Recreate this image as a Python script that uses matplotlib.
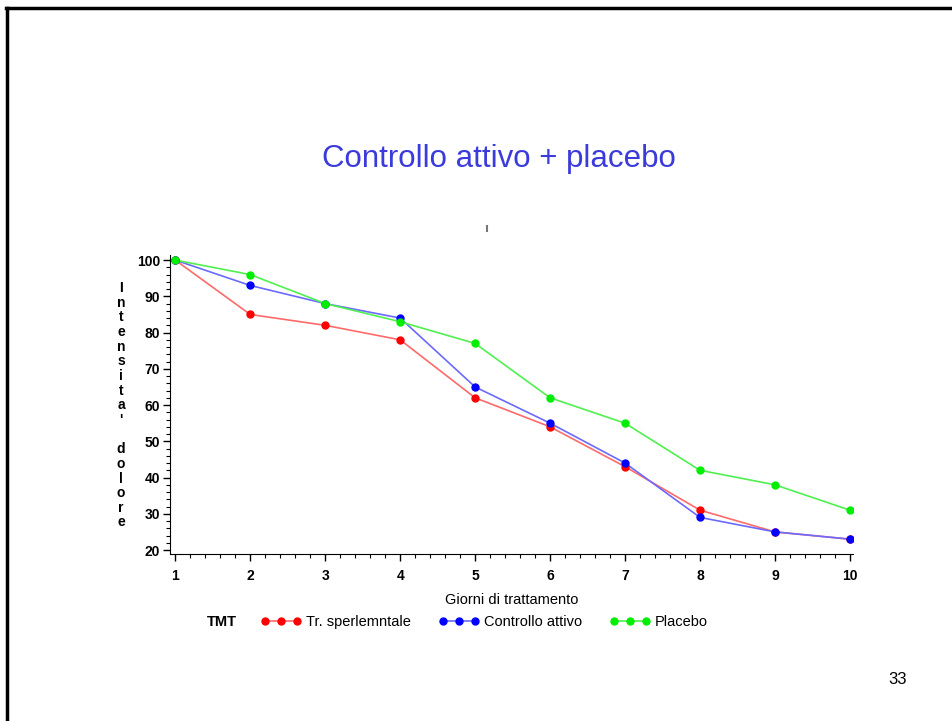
import matplotlib
matplotlib.use("Agg")
import matplotlib.pyplot as plt
from matplotlib.lines import Line2D
from matplotlib.ticker import MultipleLocator

plt.rcParams['font.family'] = ['Liberation Sans', 'DejaVu Sans']

# dati
giorni = [1, 2, 3, 4, 5, 6, 7, 8, 9, 10]
sperimentale = [100, 85, 82, 78, 62, 54, 43, 31, 25, 23]
controllo = [100, 93, 88, 84, 65, 55, 44, 29, 25, 23]
placebo = [100, 96, 88, 83, 77, 62, 55, 42, 38, 31]
etichette = ["Tr. sperlemntale", "Controllo attivo", "Placebo"]

fig = plt.figure(figsize=(9.53, 7.21), dpi=100)
ax = fig.add_axes([0.1784, 0.2316, 0.7166, 0.4147])

serie = [(sperimentale, "#ff6a6a", "#ff0000"),
         (controllo, "#6a6aff", "#0000ff"),
         (placebo, "#50f050", "#00ee00")]
handles = []
for vals, lc, mc in serie:
    ax.plot(giorni, vals, color=lc, lw=1.2, zorder=2)
    ax.plot(giorni, vals, ls="none", marker="o", ms=5, color=mc, zorder=3)
    handles.append(Line2D([], [], color=lc, lw=1.2, marker="o", ms=5,
                          markerfacecolor=mc, markeredgecolor=mc))

ax.set_xlim(0.93, 10.04)
ax.set_ylim(18.9, 101.4)
ax.set_xticks(giorni)
ax.set_yticks(range(20, 101, 10))
ax.xaxis.set_minor_locator(MultipleLocator(0.2))
ax.yaxis.set_minor_locator(MultipleLocator(2))
ax.spines['top'].set_visible(False)
ax.spines['right'].set_visible(False)
ax.tick_params(which="major", length=5, width=1, labelsize=10)
ax.tick_params(axis="y", pad=2)
ax.tick_params(axis="x", pad=6)
ax.tick_params(which="minor", length=3, width=0.8)
for t in ax.get_xticklabels() + ax.get_yticklabels():
    t.set_fontweight("bold")

ax.set_xlabel("Giorni di trattamento", fontsize=10.5, labelpad=7)

# etichetta asse y con lettere impilate
ylab = "Intensita' dolore"
fig.text(0.127, 0.438, "\n".join(ylab), fontsize=10, fontweight="bold",
         ha="center", va="center", linespacing=1.06)

fig.text(0.524, 0.779, "Controllo attivo + placebo", fontsize=22.5,
         color="#3b3bdc", ha="center", va="center")

fig.text(0.217, 0.1375, "TMT", fontsize=10.5, fontweight="bold", va="center")
fig.legend(handles, etichette, loc="center left", bbox_to_anchor=(0.2675, 0.1375),
           ncol=3, frameon=False, numpoints=3, handlelength=2.8, handletextpad=0.3,
           columnspacing=1.9, fontsize=10.5, borderaxespad=0)

fig.text(0.942, 0.057, "33", fontsize=12, ha="center", va="center")

# piccolo segno grigio sopra il grafico
fig.add_artist(Line2D([0.511, 0.511], [0.680, 0.687], color="#777777", lw=1.5))

# bordo della slide
fig.add_artist(Line2D([0.0075, 0.0075], [0.0, 0.989], color="black", lw=2.5))
fig.add_artist(Line2D([0.0065, 1.0], [0.989, 0.989], color="black", lw=2.5))

fig.savefig("out.png", dpi=100)
